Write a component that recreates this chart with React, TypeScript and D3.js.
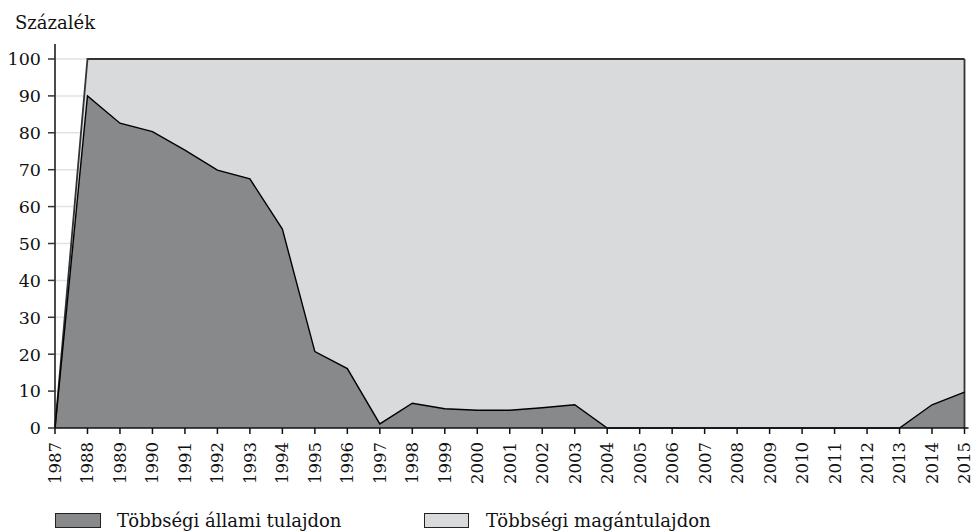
import React from "react";
import * as d3 from "d3";

const years: number[] = d3.range(1987, 2016);
const stateShare: number[] = [
  0, 90, 82.6, 80.3, 75.3, 69.9, 67.5, 53.9, 20.7, 16.1, 1.1, 6.7, 5.2, 4.8, 4.8,
  5.5, 6.3, 0, 0, 0, 0, 0, 0, 0, 0, 0, 0, 6.3, 9.7,
];
const totalShare: number[] = years.map((y) => (y === 1987 ? 0 : 100));
const yTicks: number[] = [0, 10, 20, 30, 40, 50, 60, 70, 80, 90, 100];
const legendLabels: string[] = ["Többségi állami tulajdon", "Többségi magántulajdon"];
const yTitle = "Százalék";

const W = 976;
const H = 531;
const FONT = "'DejaVu Serif', 'Liberation Serif', serif";
const DARK = "#88898b";
const LIGHT = "#d9dadc";

export default function App() {
  const x = d3.scaleLinear().domain([1987, 2015]).range([55, 964.5]);
  const y = d3.scaleLinear().domain([0, 100]).range([428, 59]);

  const rows = years.map((yr, i) => ({ yr, s: stateShare[i], t: totalShare[i] }));

  const lightArea = d3
    .area<any>()
    .x((d) => x(d.yr))
    .y0((d) => y(d.s))
    .y1((d) => y(d.t))(rows) as string;
  const darkArea = d3
    .area<any>()
    .x((d) => x(d.yr))
    .y0(y(0))
    .y1((d) => y(d.s))(rows) as string;
  const totalLine = d3
    .line<any>()
    .x((d) => x(d.yr))
    .y((d) => y(d.t))(rows) as string;
  const stateLine = d3
    .line<any>()
    .x((d) => x(d.yr))
    .y((d) => y(d.s))(rows) as string;

  const x0 = x(1987);
  const x1 = x(2015);

  return (
    <svg
      width={W}
      height={H}
      style={{ position: "absolute", left: 0, top: 0, background: "#fff" }}
      fontFamily={FONT}
    >
      {/* gridlines */}
      {yTicks.slice(1).map((t) => (
        <line key={"g" + t} x1={x0} x2={x1} y1={y(t)} y2={y(t)} stroke="#e2e2e2" strokeWidth={1.5} />
      ))}
      {/* areas */}
      <path d={lightArea} fill={LIGHT} />
      <path d={darkArea} fill={DARK} />
      <path d={totalLine} fill="none" stroke="#333" strokeWidth={1.8} />
      <line x1={x1} x2={x1} y1={y(0)} y2={y(100)} stroke="#333" strokeWidth={1.8} />
      <path d={stateLine} fill="none" stroke="#000" strokeWidth={1.4} />

      {/* y axis */}
      <line x1={x0} x2={x0} y1={y(0)} y2={44} stroke="#111" strokeWidth={1.5} />
      {yTicks.map((t) => (
        <g key={"y" + t}>
          <line x1={x0 - 7} x2={x0} y1={y(t)} y2={y(t)} stroke="#333" strokeWidth={1.5} />
          <text x={41} y={y(t)} dy="0.36em" textAnchor="end" fontSize={17.5} fill="#111">
            {t}
          </text>
        </g>
      ))}
      <text x={15} y={29} fontSize={18} fill="#111">
        {yTitle}
      </text>

      {/* x axis */}
      <line x1={x0} x2={x1 + 4} y1={y(0)} y2={y(0)} stroke="#111" strokeWidth={1.5} />
      {years.map((yr) => (
        <g key={"x" + yr}>
          <line x1={x(yr)} x2={x(yr)} y1={y(0)} y2={y(0) + 6} stroke="#111" strokeWidth={1.5} />
          <text
            transform={`translate(${x(yr)},${442}) rotate(-90)`}
            dy="0.36em"
            textAnchor="end"
            fontSize={16.5}
            fill="#111"
          >
            {yr}
          </text>
        </g>
      ))}

      {/* legend */}
      <rect x={55.5} y={513.5} width={45} height={14} fill={DARK} stroke="#222" strokeWidth={1} />
      <text x={117} y={526.5} fontSize={18} fill="#111">
        {legendLabels[0]}
      </text>
      <rect x={424.5} y={513.5} width={44} height={14} fill={LIGHT} stroke="#222" strokeWidth={1} />
      <text x={486} y={526.5} fontSize={18} fill="#111">
        {legendLabels[1]}
      </text>
    </svg>
  );
}
